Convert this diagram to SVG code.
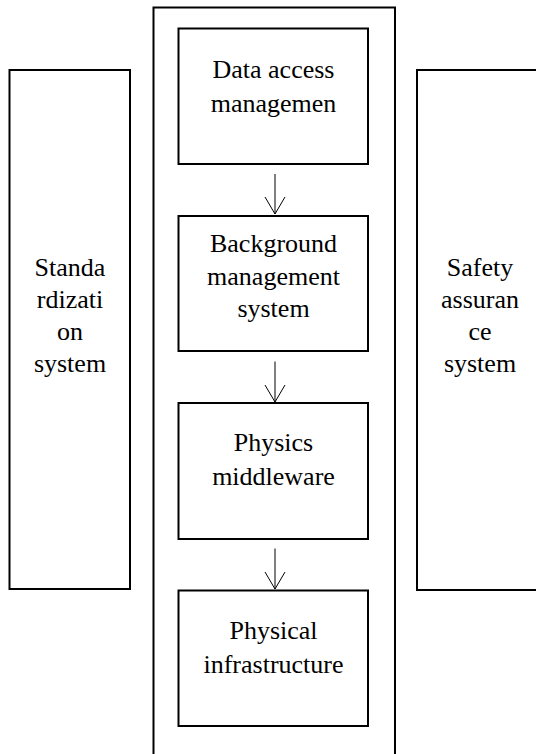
<svg xmlns="http://www.w3.org/2000/svg" width="536" height="754" viewBox="0 0 536 754">
<style>
.box{fill:none;stroke:#000;stroke-width:2}
.t{font-family:"Liberation Serif","Times New Roman",serif;font-size:26px;fill:#000;text-anchor:middle}
.c{fill:none;stroke:#000;stroke-width:1}
</style>
<g id="outer"><rect class="box" x="153.5" y="7.5" width="241.5" height="760"/></g>
<g id="standardization">
<rect class="box" x="9.5" y="70" width="120.5" height="519"/>
<text class="t" x="70" y="276">Standa</text>
<text class="t" x="70" y="308">rdizati</text>
<text class="t" x="70" y="340">on</text>
<text class="t" x="70" y="372">system</text>
</g>
<g id="safety">
<rect class="box" x="417" y="70" width="130" height="520"/>
<text class="t" x="480" y="276">Safety</text>
<text class="t" x="480" y="308">assuran</text>
<text class="t" x="480" y="340">ce</text>
<text class="t" x="480" y="372">system</text>
</g>
<g id="data-access">
<rect class="box" x="178.5" y="28.5" width="189.5" height="135.5"/>
<text class="t" x="273.5" y="78">Data access</text>
<text class="t" x="273.5" y="112">managemen</text>
</g>
<g id="background">
<rect class="box" x="178.5" y="216" width="189.5" height="135"/>
<text class="t" x="273.5" y="252">Background</text>
<text class="t" x="273.5" y="285">management</text>
<text class="t" x="273.5" y="317">system</text>
</g>
<g id="middleware">
<rect class="box" x="178.5" y="403" width="189.5" height="136"/>
<text class="t" x="273.5" y="451">Physics</text>
<text class="t" x="273.5" y="485">middleware</text>
</g>
<g id="infrastructure">
<rect class="box" x="178.5" y="590.5" width="189.5" height="135.5"/>
<text class="t" x="273.5" y="639">Physical</text>
<text class="t" x="273.5" y="673">infrastructure</text>
</g>
<g id="connectors">
<path class="c" d="M275 174V214M265 197L275 214L285 197"/>
<path class="c" d="M275 361.5V402M265 385L275 402L285 385"/>
<path class="c" d="M275 548.5V589M265 572L275 589L285 572"/>
</g>
</svg>
